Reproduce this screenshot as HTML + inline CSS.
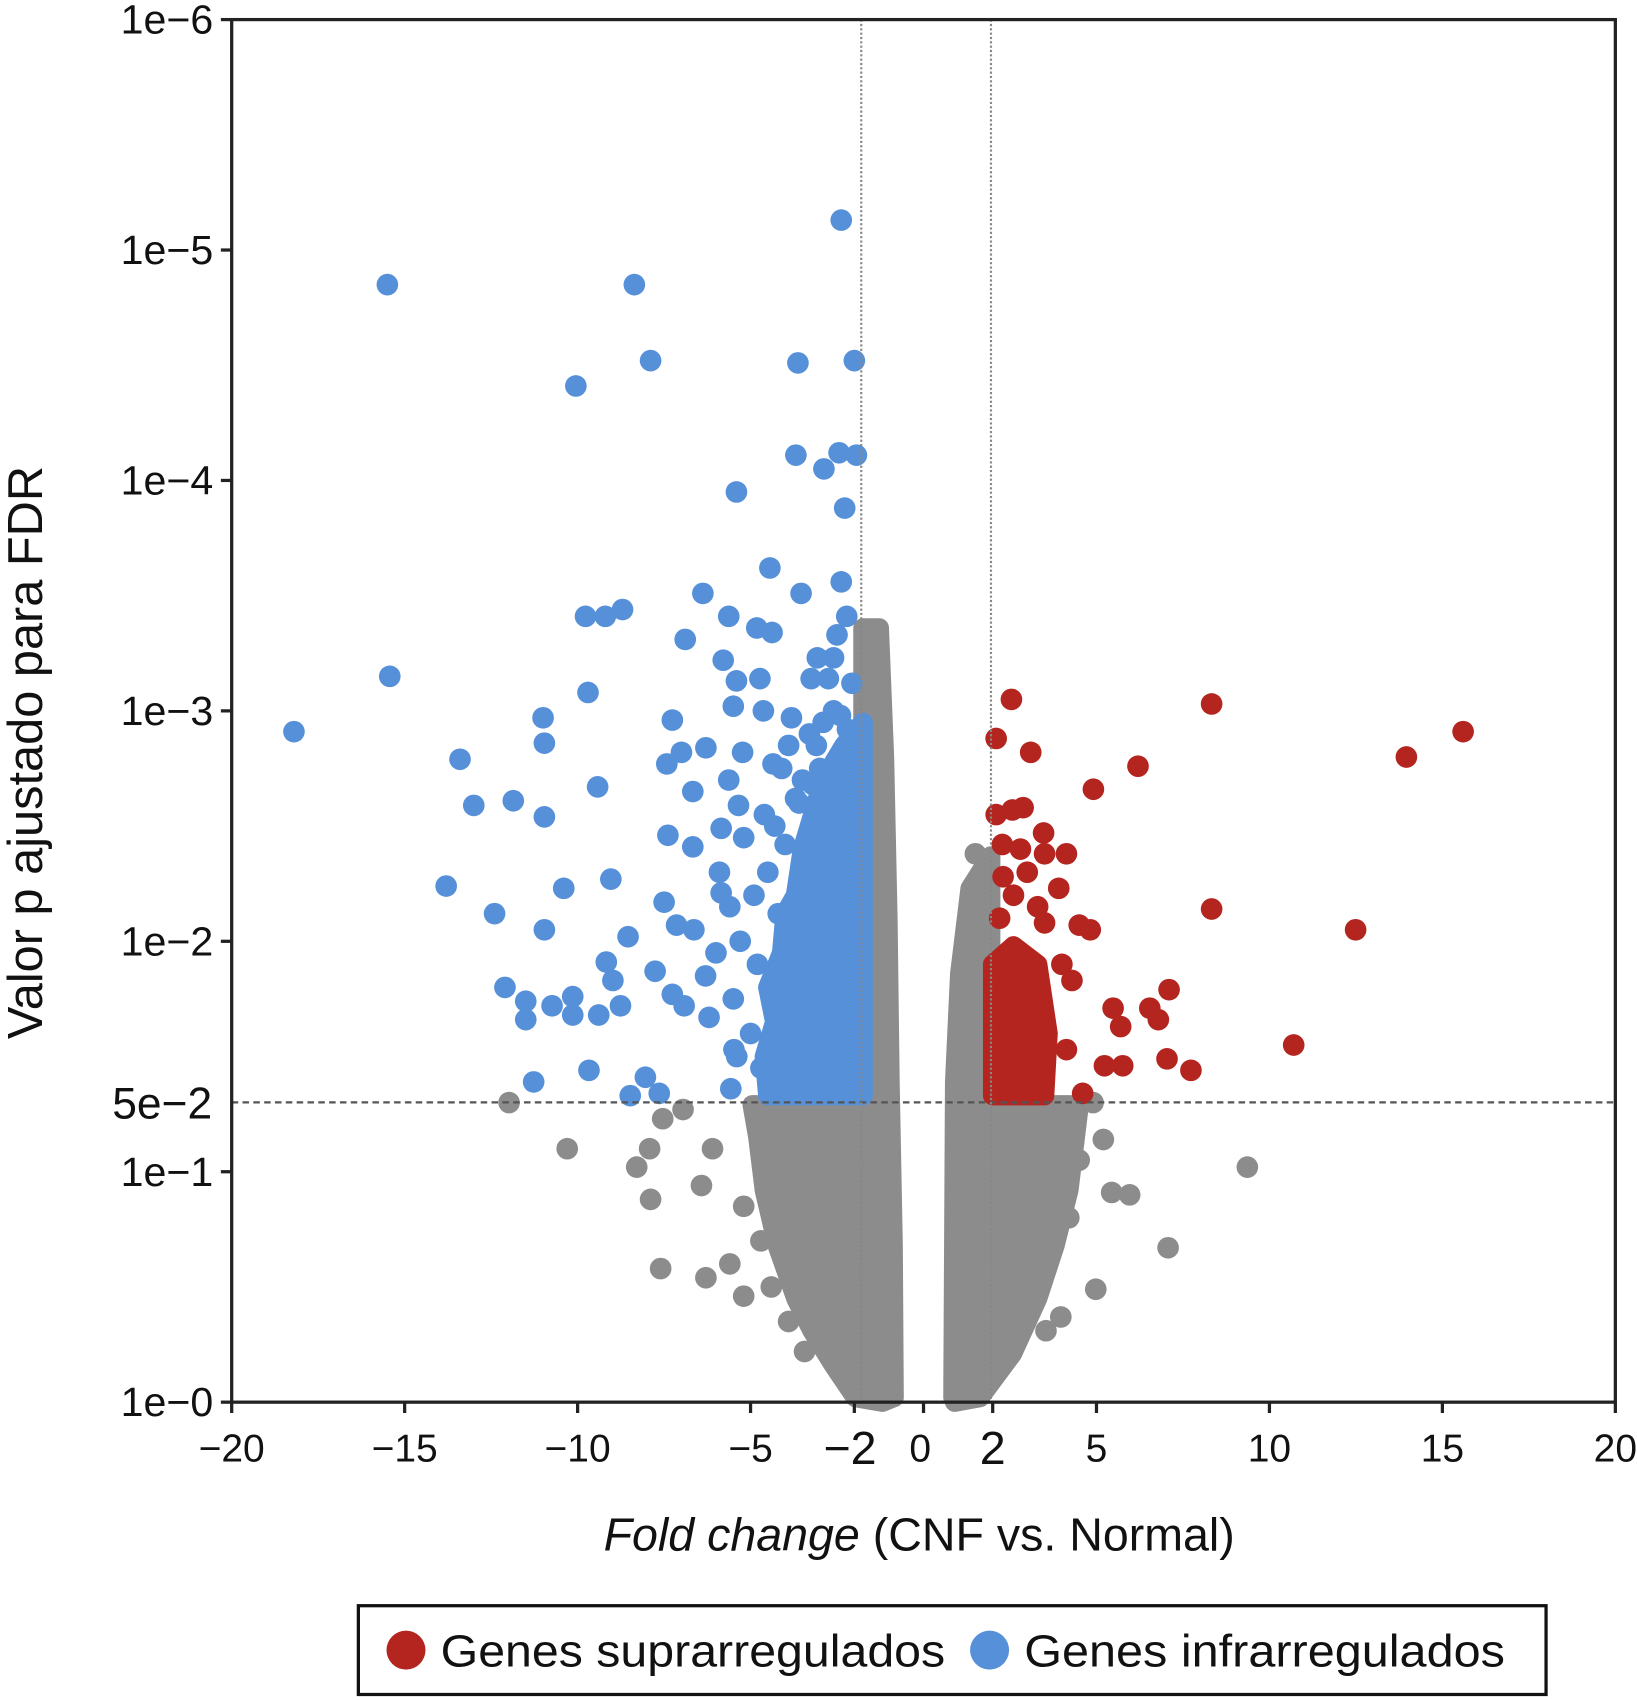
<!DOCTYPE html>
<html><head><meta charset="utf-8"><style>
html,body{margin:0;padding:0;background:#fff;}
svg{display:block;}
text{font-family:"Liberation Sans",Arial,sans-serif;fill:#111;}
</style></head><body>
<svg id="chart" width="1637" height="1700" viewBox="0 0 1512 1570" xmlns="http://www.w3.org/2000/svg">
<g id="grayLayer"></g>
<g id="blueLayer"></g>
<g id="redLayer"></g>
<g id="axes"></g>
<g>
<rect x="331" y="1483" width="1097" height="82" fill="#fff" stroke="#111" stroke-width="3"/>
<circle cx="375" cy="1524" r="18" fill="#b52520"/>
<text x="407" y="1539" font-size="42" textLength="466" lengthAdjust="spacingAndGlyphs">Genes suprarregulados</text>
<circle cx="914" cy="1524" r="18" fill="#5590d9"/>
<text x="946" y="1539" font-size="42" textLength="444" lengthAdjust="spacingAndGlyphs">Genes infrarregulados</text>
</g>
</svg>
<script>
// x axis ticks
const xTicks = [-20,-15,-10,-5,-2,0,2,5,10,15,20];
const xTickLabels = ["\u221220","\u221215","\u221210","\u22125","\u22122","0","2","5","10","15","20"];
// y axis ticks (−log10 p)
const yTicks = [6,5,4,3,2,1,0];
const yTickLabels = ["1e\u22126","1e\u22125","1e\u22124","1e\u22123","1e\u22122","1e\u22121","1e\u22120"];
const fdrThreshold = 0.05;
const fcThresholds = [-1.8, 1.95];
// blue scatter: fold change, -log10(p)
const blueFC = [-2.38,-15.5,-8.36,-7.89,-3.63,-2.0,-10.05,-3.69,-2.44,-1.94,-2.88,-5.41,-2.28,-4.44,-3.54,-2.38,-6.38,-8.7,-9.77,-9.2,-5.63,-2.22,-4.82,-4.38,-6.89,-2.5,-5.79,-3.07,-2.6,-15.43,-9.7,-5.41,-4.73,-3.25,-2.75,-2.07,-18.2,-11.0,-10.96,-7.26,-5.5,-4.63,-3.82,-13.4,-7.42,-7.0,-6.29,-5.23,-4.35,-11.86,-13.0,-10.96,-9.42,-6.67,-5.63,-7.39,-6.67,-5.85,-5.35,-13.8,-12.4,-10.96,-10.4,-9.04,-7.5,-8.54,-7.14,-6.64,-5.85,-12.1,-11.5,-11.5,-10.74,-10.14,-10.14,-9.39,-8.76,-9.17,-8.98,-7.76,-7.26,-6.92,-6.2,-11.27,-9.67,-8.04,-7.64,-8.48,-5.57,-5.48,-3.3,-2.9,-3.9,-4.1,-3.5,-2.6,-4.6,-5.2,-5.9,-6.0,-4.9,-3.1,-3.7,-2.4,-2.2,-3.0,-4.3,-5.6,-6.3,-5.0,-4.5,-5.3,-4.0,-3.6,-4.8,-5.5,-3.2,-4.2,-5.4,-4.7];
const blueNLP = [5.13,4.85,4.85,4.52,4.51,4.52,4.41,4.11,4.12,4.11,4.05,3.95,3.88,3.62,3.51,3.56,3.51,3.44,3.41,3.41,3.41,3.41,3.36,3.34,3.31,3.33,3.22,3.23,3.23,3.15,3.08,3.13,3.14,3.14,3.14,3.12,2.91,2.97,2.86,2.96,3.02,3.0,2.97,2.79,2.77,2.82,2.84,2.82,2.77,2.61,2.59,2.54,2.67,2.65,2.70,2.46,2.41,2.49,2.59,2.24,2.12,2.05,2.23,2.27,2.17,2.02,2.07,2.05,2.21,1.80,1.74,1.66,1.72,1.76,1.68,1.68,1.72,1.91,1.83,1.87,1.77,1.72,1.67,1.39,1.44,1.41,1.34,1.33,1.36,1.53,2.90,2.95,2.85,2.75,2.70,3.00,2.55,2.45,2.30,1.95,2.20,2.85,2.62,2.98,2.92,2.75,2.50,2.15,1.85,1.60,2.30,2.00,2.42,2.60,1.90,1.75,2.68,2.12,1.50,1.45];
// red scatter
const redFC = [2.54,2.1,3.1,8.33,15.6,13.96,6.2,4.91,2.1,2.57,2.88,3.47,3.5,4.13,2.28,3.91,8.33,12.49,4.5,4.82,3.5,7.1,6.54,6.79,5.48,5.7,10.7,7.04,7.73,5.23,5.76,4.6,4.13,4.29,2.3,2.6,3.0,3.3,4.0,2.2,2.8];
const redNLP = [3.05,2.88,2.82,3.03,2.91,2.80,2.76,2.66,2.55,2.57,2.58,2.47,2.38,2.38,2.42,2.23,2.14,2.05,2.07,2.05,2.08,1.79,1.71,1.66,1.71,1.63,1.55,1.49,1.44,1.46,1.46,1.34,1.53,1.83,2.28,2.20,2.30,2.15,1.90,2.10,2.40];
// gray scatter
const grayFC = [-11.98,-10.3,-8.29,-7.89,-7.92,-7.6,-6.29,-5.2,-6.42,-5.2,9.36,7.07,4.98,5.96,5.44,5.2,4.9,3.54,3.97,-3.44,-1.66,-1.66,1.5,-7.54,-6.95,-6.1,-4.7,-4.4,4.2,4.5,-5.6,-3.9];
const grayNLP = [1.30,1.10,1.02,0.88,1.10,0.58,0.54,0.46,0.94,0.85,1.02,0.67,0.49,0.90,0.91,1.14,1.30,0.31,0.37,0.22,3.31,3.23,2.38,1.23,1.27,1.10,0.70,0.50,0.80,1.05,0.60,0.35];
// dense cloud envelopes
const grayLeftFC = [-1.75,-1.28,-1.13,-1.03,-0.97,-0.88,-0.85,-1.19,-1.97,-2.60,-3.22,-3.69,-4.23,-4.60,-4.79,-4.95,-1.75];
const grayLeftNLP = [3.36,3.36,2.80,2.09,1.39,0.68,0.02,0,0.02,0.16,0.31,0.45,0.68,0.92,1.15,1.29,1.29];
const grayRightFC = [0.85,0.9,1.05,1.35,1.94,1.94,4.5,4.2,3.8,3.3,2.57,1.63,0.9];
const grayRightNLP = [0.02,1.39,1.86,2.23,2.37,1.29,1.29,0.92,0.68,0.45,0.21,0.02,0];
const blueBlobFC = [-1.75,-2.3,-2.9,-3.5,-3.7,-4.0,-4.1,-4.5,-4.3,-4.6,-4.5,-1.75];
const blueBlobNLP = [2.95,2.85,2.70,2.40,2.20,2.12,1.95,1.80,1.65,1.50,1.33,1.33];
const redBlobFC = [2.0,2.6,3.3,3.6,3.5,2.0];
const redBlobNLP = [1.90,1.98,1.90,1.60,1.33,1.33];

const L=214,R=1492,T=18,B=1295;
function xs(v){return L+(v+20)/40*(R-L);}
function ys(n){return B-n/6*(B-T);}
const NS="http://www.w3.org/2000/svg";
function mk(tag,attrs,parent){const e=document.createElementNS(NS,tag);for(const k in attrs)e.setAttribute(k,attrs[k]);parent.appendChild(e);return e;}

function blob(fc,nlp,color,parent,name){
  let d="";for(let i=0;i<fc.length;i++){d+=(i?"L":"M")+xs(fc[i]).toFixed(1)+","+ys(nlp[i]).toFixed(1);}d+="Z";
  const p=mk("path",{d:d,fill:color,stroke:color,"stroke-width":18,"stroke-linejoin":"round"},parent);
  
  
}
function dots(fc,nlp,color,parent,name){
  for(let i=0;i<fc.length;i++){
    const c=mk("circle",{cx:xs(fc[i]).toFixed(1),cy:ys(nlp[i]).toFixed(1),r:10,fill:color},parent);
    
    
  }
}
const gG=document.getElementById("grayLayer"),gB=document.getElementById("blueLayer"),gR=document.getElementById("redLayer"),ax=document.getElementById("axes");
const GRAY="#8c8c8c",BLUE="#5590d9",RED="#b52520";
blob(grayLeftFC,grayLeftNLP,GRAY,gG,"gray-cloud-left");
blob(grayRightFC,grayRightNLP,GRAY,gG,"gray-cloud-right");
dots(grayFC,grayNLP,GRAY,gG,"gray-point");
blob(blueBlobFC,blueBlobNLP,BLUE,gB,"blue-cloud");
dots(blueFC,blueNLP,BLUE,gB,"blue-point");
blob(redBlobFC,redBlobNLP,RED,gR,"red-cloud");
dots(redFC,redNLP,RED,gR,"red-point");

// threshold lines
const hy=ys(-Math.log10(fdrThreshold));
const hl=mk("line",{x1:L,x2:R,y1:hy,y2:hy,stroke:"#555","stroke-width":2,"stroke-dasharray":"6,4"},ax);


fcThresholds.forEach(v=>{
  const l=mk("line",{x1:xs(v),x2:xs(v),y1:T,y2:B,stroke:"#888","stroke-width":2,"stroke-dasharray":"2,2"},ax);
  
  
});
// frame
const fr=mk("rect",{x:L,y:T,width:R-L,height:B-T,fill:"none",stroke:"#222","stroke-width":3},ax);


// y ticks
yTicks.forEach((n,i)=>{
  const y=ys(n);
  const t=mk("line",{x1:L-10,x2:L,y1:y,y2:y,stroke:"#222","stroke-width":3},ax);
  
  
  const tx=mk("text",{x:197,y:y+13,"font-size":38,"text-anchor":"end"},ax);
  tx.textContent=yTickLabels[i];
  
  
});
const t5=mk("text",{x:196,y:hy+15,"font-size":41,"text-anchor":"end"},ax);
t5.textContent="5e\u22122";


// x ticks
xTicks.forEach((v,i)=>{
  const x=xs(v);
  const t=mk("line",{x1:x,x2:x,y1:B,y2:B+10,stroke:"#222","stroke-width":3},ax);
  
  
  const big=(v===2||v===-2);
  const tx=mk("text",{x:x+(v===-2?-4:(v===0?-3:0)),y:big?1352:1350,"font-size":big?43:36,"text-anchor":"middle"},ax);
  tx.textContent=xTickLabels[i];
  
  
});
// titles
const xt=mk("text",{x:849,y:1432,"font-size":43,"text-anchor":"middle"},ax);
xt.innerHTML='<tspan font-style="italic">Fold change</tspan> (CNF vs. Normal)';


const yt=mk("text",{x:0,y:0,"font-size":45,"text-anchor":"middle",transform:"translate(39,695) rotate(-90)"},ax);
yt.textContent="Valor p ajustado para FDR";


</script>
</body></html>
